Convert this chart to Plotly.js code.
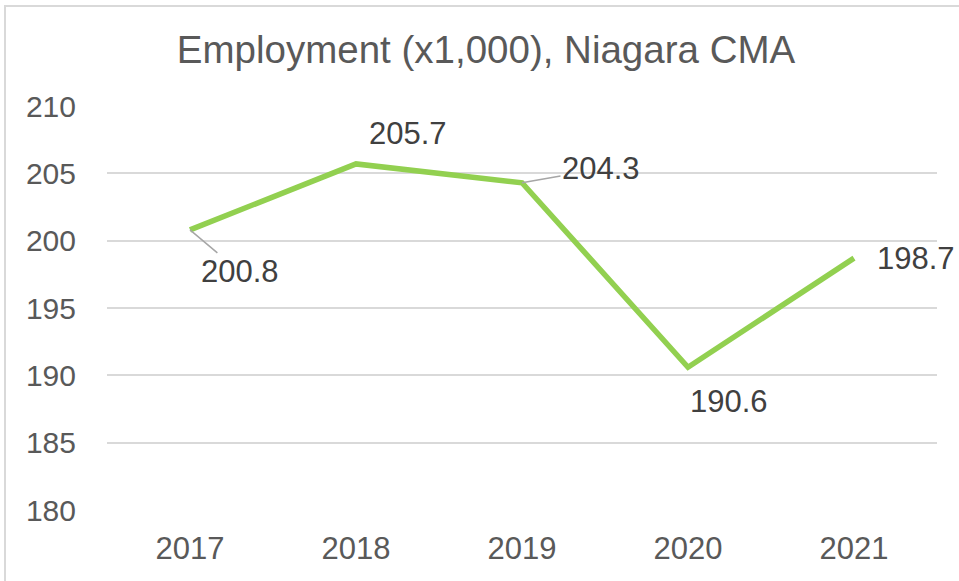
<!DOCTYPE html>
<html>
<head>
<meta charset="utf-8">
<script src="https://cdn.plot.ly/plotly-3.0.1.min.js"></script>
<style>
  body { margin: 0; background: #fff; }
  #chart { width: 959px; height: 581px; }
  #frame { position: absolute; left: 4px; top: 5px; width: 1000px; height: 1000px;
           border: 2px solid #d9d9d9; pointer-events: none; }
</style>
</head>
<body>
<div id="chart"></div>
<div id="frame"></div>
<script>
const years = ['2017', '2018', '2019', '2020', '2021']
const employment = [200.8, 205.7, 204.3, 190.6, 198.7]
// label offsets in px, leader line for the first and third
const labelDx = [50, 52, 79, 41, 62]
const labelDy = [42, -30, -14, 34, 0]
const leader = [true, false, true, false, false]

const fontFam = 'Liberation Sans, Arial, sans-serif'

let annotations = years.map((yr, i) => ({
    x: i,
    y: employment[i],
    xref: 'x',
    yref: 'y',
    text: employment[i].toFixed(1),
    showarrow: leader[i],
    arrowhead: 0,
    arrowwidth: 1.5,
    arrowcolor: '#a6a6a6',
    standoff: 0,
    ax: labelDx[i],
    ay: labelDy[i],
    xshift: leader[i] ? 0 : labelDx[i],
    yshift: leader[i] ? 0 : -labelDy[i],
    font: { family: fontFam, size: 31, color: '#404040' },
}))

let trace = {
    type: 'scatter',
    mode: 'lines',
    x: years,
    y: employment,
    line: { color: '#92d050', width: 5.5 },
    hoverinfo: 'x+y',
}

const layout = {
    width: 959,
    height: 581,
    margin: { l: 107, r: 22, t: 106, b: 71 },
    paper_bgcolor: '#ffffff',
    plot_bgcolor: '#ffffff',
    showlegend: false,
    title: {
        text: 'Employment (x1,000), Niagara CMA',
        font: { family: fontFam, size: 38.5, color: '#595959' },
        x: 486 / 959, xref: 'container', xanchor: 'center',
        y: 1 - 50 / 581, yanchor: 'middle',
    },
    xaxis: {
        type: 'category',
        range: [-0.5, 4.5],
        showgrid: false,
        showline: false,
        zeroline: false,
        ticks: '',
        ticklabelstandoff: 17,
        tickfont: { family: fontFam, size: 31, color: '#595959' },
    },
    yaxis: {
        range: [180, 210],
        dtick: 5,
        showgrid: true,
        gridcolor: '#d9d9d9',
        gridwidth: 2,
        zeroline: false,
        showline: false,
        ticks: '',
        ticklabelstandoff: 30,
        tickfont: { family: fontFam, size: 30, color: '#595959' },
    },
    annotations: annotations,
}

Plotly.newPlot('chart', [trace], layout, { displayModeBar: false, staticPlot: true })
</script>
</body>
</html>
